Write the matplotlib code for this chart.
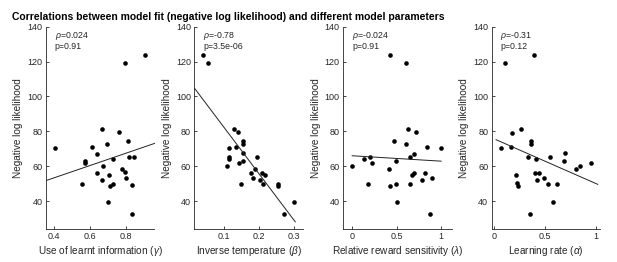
import numpy as np
import matplotlib
matplotlib.use("Agg")
import matplotlib.pyplot as plt

plt.rcParams["font.family"] = ["Liberation Sans", "DejaVu Sans"]
plt.rcParams["mathtext.fontset"] = "custom"
plt.rcParams["mathtext.it"] = "Liberation Sans:italic"
plt.rcParams["mathtext.rm"] = "Liberation Sans"

TITLE = "Correlations between model fit (negative log likelihood) and different model parameters"
YLABEL = "Negative log likelihood"
YTICKS = [40, 60, 80, 100, 120, 140]
YLIM = (24, 140)

# panel 1: use of learnt information (gamma)
gamma_x = [0.907, 0.798, 0.407, 0.668, 0.761, 0.811, 0.609, 0.693, 0.637, 0.574,
           0.574, 0.730, 0.819, 0.843, 0.674, 0.637, 0.781, 0.793, 0.800, 0.704,
           0.665, 0.554, 0.711, 0.726, 0.833, 0.698, 0.837]
gamma_y = [123.6, 119.0, 70.4, 81.1, 79.4, 74.6, 70.8, 72.5, 67.2, 62.8,
           61.8, 64.1, 65.2, 65.2, 59.9, 56.1, 58.4, 56.4, 53.4, 54.9,
           51.9, 49.8, 48.8, 49.8, 49.4, 39.4, 32.7]
gamma_fit_x = [0.359, 0.961]
gamma_fit_y = [51.9, 73.1]

# panel 2: inverse temperature (beta)
beta_x = [0.040, 0.054, 0.127, 0.1385, 0.154, 0.153, 0.133, 0.1126, 0.155, 0.1126,
          0.1126, 0.195, 0.141, 0.155, 0.108, 0.189, 0.177, 0.2075, 0.218, 0.182,
          0.203, 0.211, 0.148, 0.255, 0.255, 0.300, 0.2716]
beta_y = [123.6, 119.0, 81.3, 79.4, 74.6, 72.7, 70.8, 70.4, 67.3, 65.0,
          64.1, 65.2, 61.8, 63.1, 60.1, 58.4, 55.9, 56.3, 54.9, 53.4,
          51.9, 49.9, 49.6, 49.8, 48.8, 39.4, 32.7]
beta_fit_x = [0.014, 0.304]
beta_fit_y = [104.8, 28.1]

# panel 3: relative reward sensitivity (lambda)
lam_x = [0.0, 0.133, 0.199, 0.225, 0.177, 0.425, 0.605, 0.631, 0.723, 0.472,
         0.602, 0.837, 1.0, 0.697, 0.646, 0.487, 0.413, 0.690, 0.675, 0.815,
         0.790, 0.900, 0.494, 0.425, 0.653, 0.509, 0.878]
lam_y = [60.1, 64.3, 65.2, 61.8, 49.6, 123.6, 119.0, 81.3, 79.4, 74.6,
         72.7, 70.8, 70.4, 67.1, 65.2, 63.1, 58.4, 56.3, 55.1, 56.1,
         51.9, 53.4, 49.8, 48.6, 49.8, 39.4, 32.7]
lam_fit_x = [0.0, 1.0]
lam_fit_y = [66.0, 62.9]

# panel 4: learning rate (alpha)
alpha_x = [0.108, 0.389, 0.069, 0.180, 0.265, 0.167, 0.366, 0.366, 0.333, 0.412,
           0.552, 0.693, 0.689, 0.951, 0.846, 0.804, 0.216, 0.402, 0.444, 0.493,
           0.418, 0.225, 0.238, 0.529, 0.620, 0.581, 0.350]
alpha_y = [119.0, 123.6, 70.2, 79.2, 81.3, 70.8, 74.4, 72.5, 65.4, 64.1,
           65.4, 67.4, 62.9, 61.6, 60.1, 58.2, 54.9, 56.1, 56.1, 53.2,
           51.9, 50.2, 48.6, 49.8, 49.6, 39.6, 32.5]
alpha_fit_x = [0.02, 1.016]
alpha_fit_y = [75.2, 49.6]

panels = [
    dict(x=gamma_x, y=gamma_y, fx=gamma_fit_x, fy=gamma_fit_y,
         xlabel=r"Use of learnt information ($\gamma$)", xlim=(0.355, 0.96),
         xticks=[0.4, 0.6, 0.8], xticklabels=["0.4", "0.6", "0.8"],
         rho="0.024", p="0.91"),
    dict(x=beta_x, y=beta_y, fx=beta_fit_x, fy=beta_fit_y,
         xlabel=r"Inverse temperature ($\beta$)", xlim=(0.014, 0.326),
         xticks=[0.1, 0.2, 0.3], xticklabels=["0.1", "0.2", "0.3"],
         rho="-0.78", p="3.5e-06"),
    dict(x=lam_x, y=lam_y, fx=lam_fit_x, fy=lam_fit_y,
         xlabel=r"Relative reward sensitivity ($\lambda$)", xlim=(-0.1, 1.12),
         xticks=[0, 0.5, 1], xticklabels=["0", "0.5", "1"],
         rho="-0.024", p="0.91"),
    dict(x=alpha_x, y=alpha_y, fx=alpha_fit_x, fy=alpha_fit_y,
         xlabel=r"Learning rate ($\alpha$)", xlim=(-0.023, 1.04),
         xticks=[0, 0.5, 1], xticklabels=["0", "0.5", "1"],
         rho="-0.31", p="0.12"),
]

W, H = 617, 262
fig = plt.figure(figsize=(W / 100, H / 100), dpi=100)
lefts = [46, 194.4, 343.3, 491.7]
ax_w, ax_top, ax_bot = 108.5, 26.7, 229

for left, pan in zip(lefts, panels):
    ax = fig.add_axes([left / W, (H - ax_bot) / H, ax_w / W, (ax_bot - ax_top) / H])
    ax.plot(pan["x"], pan["y"], "o", color="black", markersize=3.3, markeredgewidth=0)
    ax.plot(pan["fx"], pan["fy"], "-", color="#222222", linewidth=0.7)
    ax.set_xlim(pan["xlim"])
    ax.set_ylim(YLIM)
    ax.set_xticks(pan["xticks"])
    ax.set_xticklabels(pan["xticklabels"])
    ax.set_yticks(YTICKS)
    for s in ["top", "right"]:
        ax.spines[s].set_visible(False)
    for s in ["left", "bottom"]:
        ax.spines[s].set_color("#262626")
        ax.spines[s].set_linewidth(0.6)
    ax.tick_params(direction="in", length=2.5, width=0.6, color="#262626",
                   labelsize=6.5, pad=2.5, labelcolor="#262626")
    ax.set_xlabel(pan["xlabel"], fontsize=7.2, labelpad=2, color="#262626")
    ax.set_ylabel(YLABEL, fontsize=7.2, labelpad=3, color="#262626")
    ax.text(0.08, 0.985, r"$\rho$=" + pan["rho"] + "\np=" + pan["p"],
            transform=ax.transAxes, ha="left", va="top", fontsize=6.3,
            color="#262626", linespacing=1.1)

fig.text(12 / W, 1 - 17 / H, TITLE, ha="left", va="center",
         fontsize=7.5, fontweight="bold", color="black")

fig.savefig("out.png", dpi=100)
